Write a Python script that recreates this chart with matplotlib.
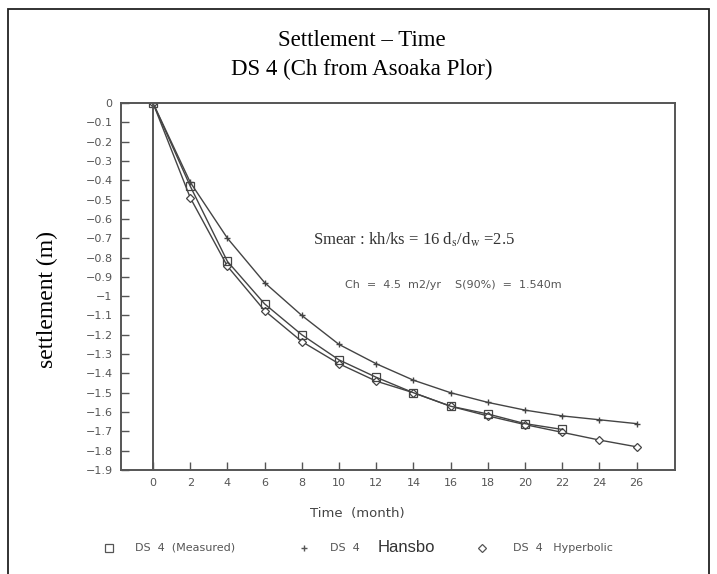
import matplotlib
matplotlib.use("Agg")
import matplotlib.pyplot as plt
from matplotlib.lines import Line2D
from matplotlib.patches import Rectangle

plt.rcParams['mathtext.fontset'] = 'stix'

# data
months_measured = [0, 2, 4, 6, 8, 10, 12, 14, 16, 18, 20, 22]
measured = [0, -0.43, -0.82, -1.04, -1.20, -1.33, -1.42, -1.50, -1.57, -1.61, -1.66, -1.69]

months_model = [0, 2, 4, 6, 8, 10, 12, 14, 16, 18, 20, 22, 24, 26]
hansbo = [0, -0.41, -0.70, -0.93, -1.10, -1.25, -1.35, -1.435, -1.50, -1.55, -1.59, -1.62, -1.64, -1.66]
hyperbolic = [0, -0.49, -0.845, -1.075, -1.235, -1.35, -1.44, -1.50, -1.57, -1.62, -1.665, -1.705, -1.745, -1.78]

x_ticks = list(range(0, 27, 2))
y_ticks = [-i / 10 for i in range(0, 20)]

W, H = 717, 574
fig = plt.figure(figsize=(W / 100, H / 100), dpi=100)

def fx(px):
    return px / W

def fy(py):
    return 1 - py / H

# outer frame (open at the bottom like the cropped original)
fig.add_artist(Rectangle((fx(8), -0.05), fx(709) - fx(8), fy(9) + 0.05,
                         transform=fig.transFigure, fill=False, lw=1.3, ec='#222222'))

serif = 'Liberation Serif'
fig.text(fx(362), fy(40), 'Settlement \u2013 Time', ha='center', va='center',
         family=serif, fontsize=16.5)
fig.text(fx(362), fy(69), 'DS 4 (Ch from Asoaka Plor)', ha='center', va='center',
         family=serif, fontsize=16.5)

ax = fig.add_axes([fx(121), fy(470), fx(675) - fx(121), (470 - 103) / H])
line_col = '#444444'
ax.plot(months_model, hansbo, color=line_col, lw=1.0, marker='+', ms=5, mew=1.0)
ax.plot(months_model, hyperbolic, color=line_col, lw=1.0, marker='D', ms=4,
        mfc='white', mec=line_col, mew=0.9)
ax.plot(months_measured, measured, color=line_col, lw=1.0, marker='s', ms=5.5,
        mfc='none', mec=line_col, mew=0.9)
ax.axvline(0, color='#555555', lw=1.4)

ax.set_xlim(-1.72, 28.06)
ax.set_ylim(-1.9, 0)
ax.set_xticks(x_ticks)
ax.set_yticks(y_ticks)
ax.set_yticklabels([('%g' % v).replace('-', '\u2212') for v in y_ticks])
ax.tick_params(direction='in', length=6, width=1.0, color='#555555',
               labelsize=8, labelcolor='#555555', pad=6)
for s in ax.spines.values():
    s.set_color('#555555')
    s.set_linewidth(1.4)

fig.text(fx(47), fy(300), 'settlement (m)', rotation=90, ha='center', va='center',
         family=serif, fontsize=17)
fig.text(fx(357), fy(513), 'Time  (month)', ha='center', va='center',
         fontsize=9.5, color='#444444')

ax.text(fx(313), fy(240), r'Smear : kh/ks = 16 d$_\mathrm{s}$/d$_\mathrm{w}$ =2.5',
        transform=fig.transFigure, ha='left', va='center', family=serif,
        fontsize=12, color='#333333')
ax.text(fx(345), fy(285), 'Ch  =  4.5  m2/yr    S(90%)  =  1.540m',
        transform=fig.transFigure, ha='left', va='center', fontsize=8,
        color='#555555')

# legend row drawn by hand
ly = fy(548)
fig.add_artist(Line2D([fx(109)], [ly], marker='s', ms=5.5, mfc='none',
                      mec='#555555', mew=0.9, transform=fig.transFigure))
fig.text(fx(135), ly, 'DS  4  (Measured)', ha='left', va='center', fontsize=8,
         color='#555555')
fig.add_artist(Line2D([fx(304)], [ly], marker='+', ms=5, mec='#555555', mew=1.0,
                      transform=fig.transFigure))
fig.text(fx(330), ly, 'DS  4', ha='left', va='center', fontsize=8, color='#555555')
fig.text(fx(378), ly, 'Hansbo', ha='left', va='center', family='Liberation Sans',
         fontsize=12, color='#333333')
fig.add_artist(Line2D([fx(482)], [ly], marker='D', ms=4, mfc='none',
                      mec='#555555', mew=0.9, transform=fig.transFigure))
fig.text(fx(513), ly, 'DS  4   Hyperbolic', ha='left', va='center', fontsize=8,
         color='#555555')

fig.savefig('out.png', dpi=100)
